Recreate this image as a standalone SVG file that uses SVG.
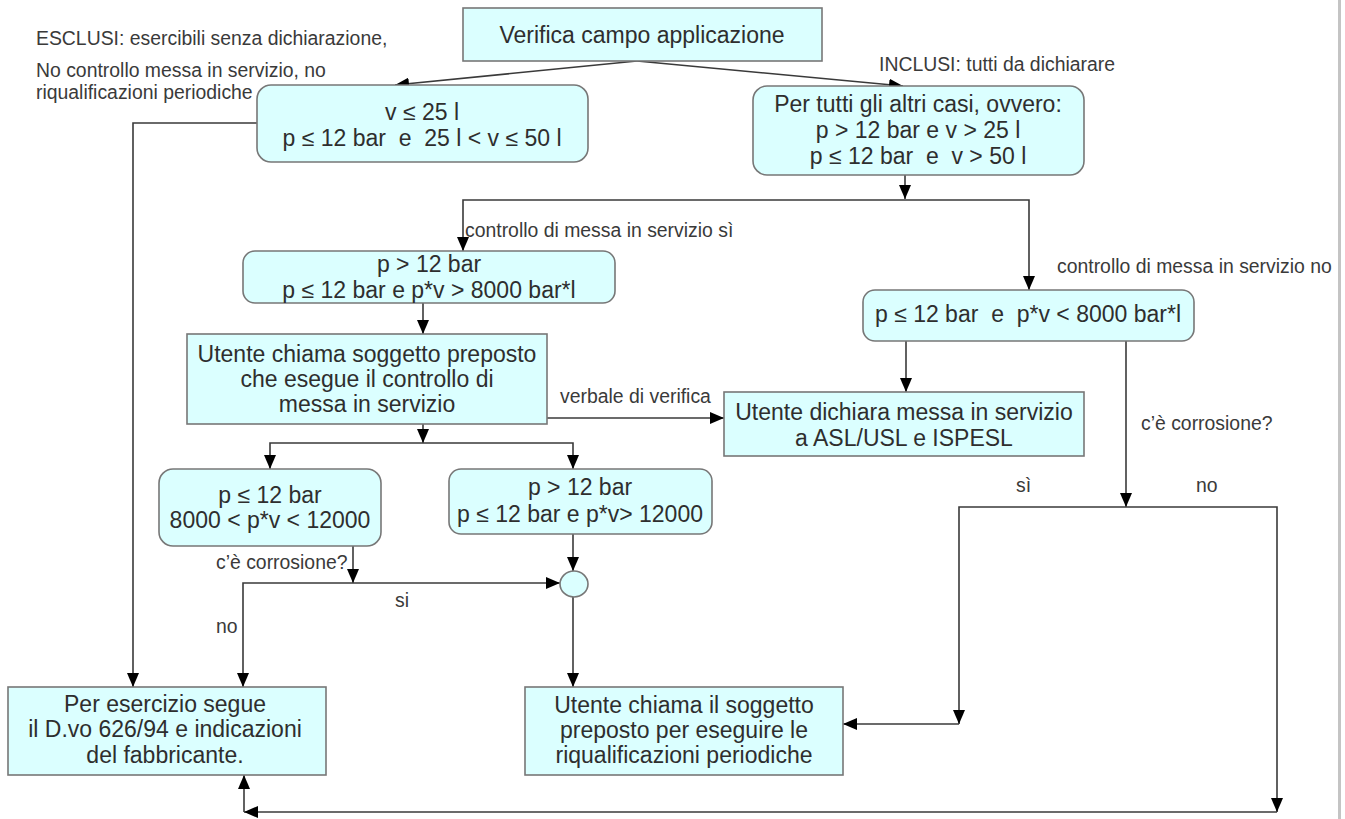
<svg xmlns="http://www.w3.org/2000/svg" width="1345" height="819" viewBox="0 0 1345 819">
<style>
.box{fill:#dbffff;stroke:#777;stroke-width:1.6}
.t{font-family:"Liberation Sans",Arial,sans-serif;font-size:23px;fill:#2e2e2e;text-anchor:middle;white-space:pre}
.lb{font-family:"Liberation Sans",Arial,sans-serif;font-size:19.4px;fill:#3a3a3a;white-space:pre}
.ca{fill:none;stroke:#3a3a3a;stroke-width:1.6;marker-end:url(#ah)}
</style>
<defs>
<marker id="ah" markerUnits="userSpaceOnUse" markerWidth="14" markerHeight="12" refX="14" refY="6" orient="auto" viewBox="0 0 14 12">
<path d="M0,0 L14,6 L0,12 z" fill="#000"/>
</marker>
</defs>
<rect width="1345" height="819" fill="#fff"/>
<line x1="1339.5" y1="0" x2="1339.5" y2="819" stroke="#c4c4c4" stroke-width="3"/>

<g id="connectors">
<path class="ca" d="M637,61 L395,85"/>
<path class="ca" d="M637,61 L903,86"/>
<path class="ca" d="M257,123 L133,123 L133,687"/>
<path class="ca" d="M905,175 L905,199"/>
<path class="ca" d="M905,200 L463,200 L463,251"/>
<path class="ca" d="M905,200 L1029,200 L1029,290"/>
<path class="ca" d="M423,303 L423,334"/>
<path class="ca" d="M423,424 L423,443"/>
<path class="ca" d="M423,443 L270,443 L270,469"/>
<path class="ca" d="M423,443 L573,443 L573,469"/>
<path class="ca" d="M547,418 L724,418"/>
<path class="ca" d="M906,341 L906,392"/>
<path class="ca" d="M1126,341 L1126,507"/>
<path class="ca" d="M1126,507 L959,507 L959,724"/>
<path class="ca" d="M959,724 L843,724"/>
<path class="ca" d="M1126,507 L1277,507 L1277,812"/>
<path class="ca" d="M1277,812 L244,812"/>
<path class="ca" d="M244,812 L244,775"/>
<path class="ca" d="M353,546 L353,583"/>
<path class="ca" d="M353,583 L243,583 L243,687"/>
<path class="ca" d="M353,583 L560,583"/>
<path class="ca" d="M573,534 L573,571"/>
<path class="ca" d="M573,597 L573,687"/>
</g>

<g id="labels">
<text class="lb" x="36" y="45">ESCLUSI: esercibili senza dichiarazione,</text>
<text class="lb" x="36" y="77">No controllo messa in servizio, no</text>
<text class="lb" x="36" y="99">riqualificazioni periodiche</text>
<text class="lb" x="879" y="71">INCLUSI: tutti da dichiarare</text>
<text class="lb" x="465" y="237">controllo di messa in servizio sì</text>
<text class="lb" x="1057" y="273">controllo di messa in servizio no</text>
<text class="lb" x="560" y="403">verbale di verifica</text>
<text class="lb" x="1141" y="430">c’è corrosione?</text>
<text class="lb" x="1016" y="492">sì</text>
<text class="lb" x="1196" y="492">no</text>
<text class="lb" x="216" y="569">c’è corrosione?</text>
<text class="lb" x="395" y="607">si</text>
<text class="lb" x="216" y="633">no</text>
</g>

<g id="n-verifica">
<rect class="box" x="463" y="8" width="359" height="53"/>
<text class="t" x="642" y="43">Verifica campo applicazione</text>
</g>
<g id="n-esclusi">
<rect class="box" x="257" y="85" width="331" height="77" rx="14"/>
<text class="t" x="422" y="120">v ≤ 25 l</text>
<text class="t" x="422" y="146">p ≤ 12 bar  e  25 l &lt; v ≤ 50 l</text>
</g>
<g id="n-inclusi">
<rect class="box" x="753" y="86" width="331" height="89" rx="14"/>
<text class="t" x="918" y="112">Per tutti gli altri casi, ovvero:</text>
<text class="t" x="918" y="138">p &gt; 12 bar e v &gt; 25 l</text>
<text class="t" x="918" y="164">p ≤ 12 bar  e  v &gt; 50 l</text>
</g>
<g id="n-controllo-si">
<rect class="box" x="243" y="251" width="372" height="52" rx="12"/>
<text class="t" x="429" y="272">p &gt; 12 bar</text>
<text class="t" x="429" y="298">p ≤ 12 bar e p*v &gt; 8000 bar*l</text>
</g>
<g id="n-soggetto">
<rect class="box" x="187" y="334" width="360" height="90"/>
<text class="t" x="367" y="362">Utente chiama soggetto preposto</text>
<text class="t" x="367" y="387">che esegue il controllo di</text>
<text class="t" x="367" y="412">messa in servizio</text>
</g>
<g id="n-controllo-no">
<rect class="box" x="863" y="290" width="331" height="51" rx="12"/>
<text class="t" x="1028" y="322">p ≤ 12 bar  e  p*v &lt; 8000 bar*l</text>
</g>
<g id="n-dichiara">
<rect class="box" x="724" y="392" width="360" height="64"/>
<text class="t" x="904" y="420">Utente dichiara messa in servizio</text>
<text class="t" x="904" y="446">a ASL/USL e ISPESL</text>
</g>
<g id="n-8000-12000">
<rect class="box" x="159" y="469" width="222" height="77" rx="14"/>
<text class="t" x="270" y="503">p ≤ 12 bar</text>
<text class="t" x="270" y="528">8000 &lt; p*v &lt; 12000</text>
</g>
<g id="n-12000">
<rect class="box" x="449" y="469" width="263" height="65" rx="12"/>
<text class="t" x="580" y="495">p &gt; 12 bar</text>
<text class="t" x="580" y="522">p ≤ 12 bar e p*v&gt; 12000</text>
</g>
<g id="n-junction">
<ellipse class="box" cx="574" cy="584" rx="14" ry="13"/>
</g>
<g id="n-esercizio">
<rect class="box" x="8" y="687" width="318" height="88"/>
<text class="t" x="165" y="712">Per esercizio segue</text>
<text class="t" x="165" y="737">il D.vo 626/94 e indicazioni</text>
<text class="t" x="165" y="763">del fabbricante.</text>
</g>
<g id="n-riqualificazioni">
<rect class="box" x="525" y="687" width="318" height="88"/>
<text class="t" x="684" y="713">Utente chiama il soggetto</text>
<text class="t" x="684" y="738">preposto per eseguire le</text>
<text class="t" x="684" y="763">riqualificazioni periodiche</text>
</g>
</svg>
